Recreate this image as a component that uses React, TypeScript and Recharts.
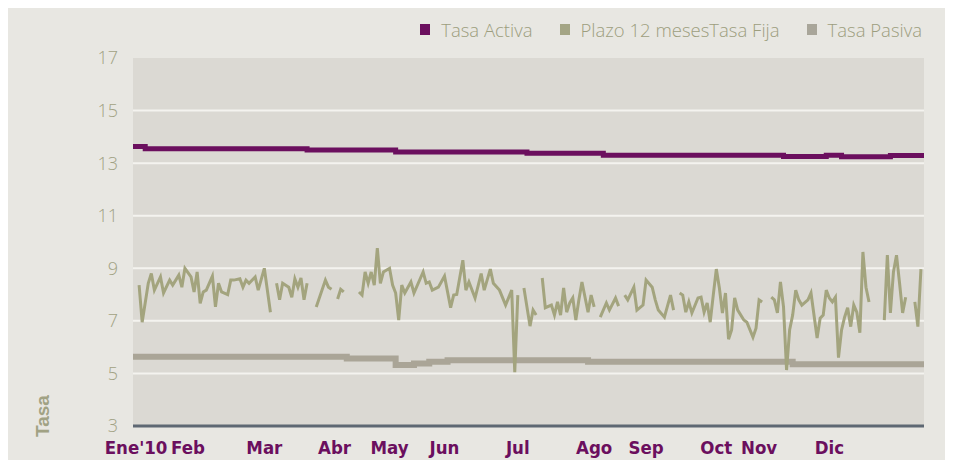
import { LineChart, Line, XAxis, YAxis, CartesianGrid } from "recharts";

// business-day index (0..259) for the year 2010
const monthTicks = [1, 18, 43, 66, 84, 102, 126, 151, 168, 191, 205, 228];
const monthLabels = ["Ene'10", "Feb", "Mar", "Abr", "May", "Jun", "Jul", "Ago", "Sep", "Oct", "Nov", "Dic"];
const yTicks = [3, 5, 7, 9, 11, 13, 15, 17];

// step series: [day, rate] at each change
const tasaActiva: [number, number][] = [
  [0, 13.63], [4, 13.55], [57, 13.5], [86, 13.42], [129, 13.38], [154, 13.3],
  [213, 13.25], [227, 13.3], [232, 13.24], [248, 13.29], [259, 13.29],
];

const tasaPasiva: [number, number][] = [
  [0, 5.63], [70, 5.57], [86, 5.32], [92, 5.38], [97, 5.44], [103, 5.5],
  [149, 5.44], [216, 5.35], [259, 5.35],
];

// daily quotes, null = no quote
const plazoFija: [number, number | null][] = [
  [2, 8.36], [3, 6.95], [5, 8.43], [6, 8.8], [7, 8.17], [9, 8.67], [10, 8.06], [12, 8.55],
  [13, 8.36], [15, 8.74], [16, 8.28], [17, 9.0], [19, 8.67], [20, 8.1], [21, 8.86], [22, 7.67],
  [23, 8.1], [24, 8.17], [26, 8.7], [27, 7.53], [28, 8.43], [29, 8.1], [31, 8.0], [32, 8.55],
  [33, 8.55], [35, 8.6], [36, 8.28], [37, 8.55], [38, 8.43], [40, 8.67], [41, 8.17], [43, 9.0],
  [45, 7.33], [46, null],
  [47, 8.43], [48, 7.8], [49, 8.43], [51, 8.28], [52, 7.9], [53, 8.6], [54, 8.28], [55, 8.63],
  [56, 7.8], [57, 8.43], [58, null],
  [60, 7.53], [63, 8.55], [64, 8.28], [65, 8.2], [66, null],
  [67, 7.83], [68, 8.2], [69, 8.1], [70, null],
  [74, 8.1], [75, 7.98], [76, 8.86], [77, 8.43], [78, 8.86], [79, 8.36], [80, 9.77], [81, 8.43],
  [82, 8.86], [84, 9.0], [85, 8.36], [86, 8.06], [87, 7.03], [88, 8.36], [89, 8.06], [91, 8.48],
  [92, 8.06], [95, 8.86], [96, 8.43], [97, 8.48], [98, 8.17], [100, 8.28], [102, 8.7], [104, 7.5],
  [105, 7.98], [106, 8.0], [108, 9.31], [109, 8.17], [110, 8.48], [112, 7.87], [114, 8.8], [115, 8.17],
  [117, 8.97], [118, 8.43], [120, 8.17], [122, 7.6], [124, 8.17], [125, 5.05], [126, 7.98], [127, null],
  [128, 8.25], [130, 6.8], [131, 7.41], [132, 7.22], [133, null],
  [134, 8.63], [135, 7.5], [137, 7.6], [138, 7.22], [139, 7.72], [140, 7.22], [141, 8.25], [142, 7.33],
  [143, 7.68], [144, 7.87], [145, 7.03], [146, 7.8], [147, 8.48], [149, 7.33], [150, 7.98], [151, 7.53],
  [152, null],
  [153, 7.14], [155, 7.68], [156, 7.41], [158, 7.87], [159, 7.56], [160, null],
  [161, 7.98], [162, 7.8], [164, 8.28], [165, 7.41], [167, 7.6], [168, 8.55], [170, 8.28], [171, 7.8],
  [172, 7.41], [174, 7.14], [176, 7.98], [177, 7.41], [178, null],
  [179, 8.06], [180, 7.98], [181, 7.33], [182, 7.72], [183, 7.3], [185, 7.87], [186, 7.9], [187, 7.33],
  [188, 7.68], [189, 6.95], [190, 7.98], [191, 8.97], [192, 8.25], [193, 7.3], [194, 8.06], [195, 6.3],
  [196, 6.65], [197, 7.87], [198, 7.41], [200, 7.03], [201, 6.95], [203, 6.38], [204, 6.72], [205, 7.8],
  [206, 7.72], [207, null],
  [209, 7.9], [210, 7.8], [211, 7.3], [212, 8.48], [213, 7.53], [214, 5.13], [215, 6.65], [216, 7.22],
  [217, 8.17], [218, 7.8], [219, 7.6], [221, 7.8], [222, 8.06], [224, 6.35], [225, 7.1], [226, 7.22],
  [227, 8.17], [228, 7.87], [229, 7.72], [230, 7.9], [231, 5.6], [232, 6.65], [233, 7.14], [234, 7.5],
  [235, 6.78], [236, 7.6], [237, 7.33], [238, 6.55], [239, 9.62], [240, 8.28], [241, 7.72], [242, null],
  [246, 7.03], [247, 9.5], [248, 7.3], [249, 8.86], [250, 9.5], [251, 8.43], [252, 7.3], [253, 7.9],
  [254, null],
  [256, 7.72], [257, 6.78], [258, 8.97],
];

const toRows = (pairs: [number, number | null][]) => pairs.map(([d, v]) => ({ d, v }));

const C_ACTIVA = "#6b0f5e";
const C_PLAZO = "#a3a47e";
const C_PASIVA = "#aaa597";
const C_TEXT = "#a1a284";

const legendItems = [
  { name: "Tasa Activa", color: C_ACTIVA },
  { name: "Plazo 12 mesesTasa Fija", color: "#a4a585" },
  { name: "Tasa Pasiva", color: "#a9a69a" },
];

export default function App() {
  return (
    <div style={{ position: "relative", width: 940, height: 452, background: "#e8e7e2" }}>
      <div
        style={{
          position: "absolute",
          top: 9,
          right: 26,
          display: "flex",
          gap: 27,
          fontFamily: "'Open Sans', sans-serif",
          fontWeight: 300,
          fontSize: 18.5,
          color: "#9d9e7e",
        }}
      >
        {legendItems.map((it) => (
          <div key={it.name} style={{ display: "flex", alignItems: "center" }}>
            <span style={{ width: 10, height: 11, background: it.color, marginRight: 11 }} />
            {it.name}
          </div>
        ))}
      </div>
      <LineChart width={940} height={452} margin={{ top: 50, right: 24, bottom: 4, left: 0 }}>
        <CartesianGrid vertical={false} stroke="#f4f3ef" strokeWidth={2} fill="#dbd9d3" horizontalValues={[5, 7, 9, 11, 13, 15]} />
        <XAxis
          type="number"
          dataKey="d"
          domain={[0, 259]}
          ticks={monthTicks}
          interval={0}
          tickFormatter={(v: number) => monthLabels[monthTicks.indexOf(v)]}
          axisLine={{ stroke: "#5e6873", strokeWidth: 3 }}
          tickLine={false}
          tickSize={0}
          tickMargin={15}
          height={30}
          tick={{ fill: C_ACTIVA, fontSize: 18.5, fontWeight: 700, fontFamily: "'Liberation Sans Narrow', 'DejaVu Sans Condensed', sans-serif" }}
          allowDuplicatedCategory={false}
        />
        <YAxis
          type="number"
          domain={[3, 17]}
          ticks={yTicks}
          interval={0}
          width={125}
          axisLine={false}
          tickLine={false}
          tickSize={0}
          tickMargin={15}
          tick={{ fill: C_TEXT, fontSize: 18, fontFamily: "'Open Sans', sans-serif", fontWeight: 300 }}
          label={{
            value: "Tasa",
            angle: -90,
            position: "insideBottomLeft",
            dx: 36,
            dy: 16,
            fill: C_TEXT,
            fontSize: 19,
            fontWeight: 700,
            fontFamily: "'Liberation Sans', sans-serif",
          }}
        />
        <Line
          data={toRows(tasaPasiva)}
          dataKey="v"
          type="stepAfter"
          stroke={C_PASIVA}
          strokeWidth={6}
          dot={false}
          isAnimationActive={false}
        />
        <Line
          data={toRows(tasaActiva)}
          dataKey="v"
          type="stepAfter"
          stroke={C_ACTIVA}
          strokeWidth={5}
          dot={false}
          isAnimationActive={false}
        />
        <Line
          data={toRows(plazoFija)}
          dataKey="v"
          type="linear"
          stroke={C_PLAZO}
          strokeWidth={3}
          dot={false}
          connectNulls={false}
          isAnimationActive={false}
        />
      </LineChart>
    </div>
  );
}
